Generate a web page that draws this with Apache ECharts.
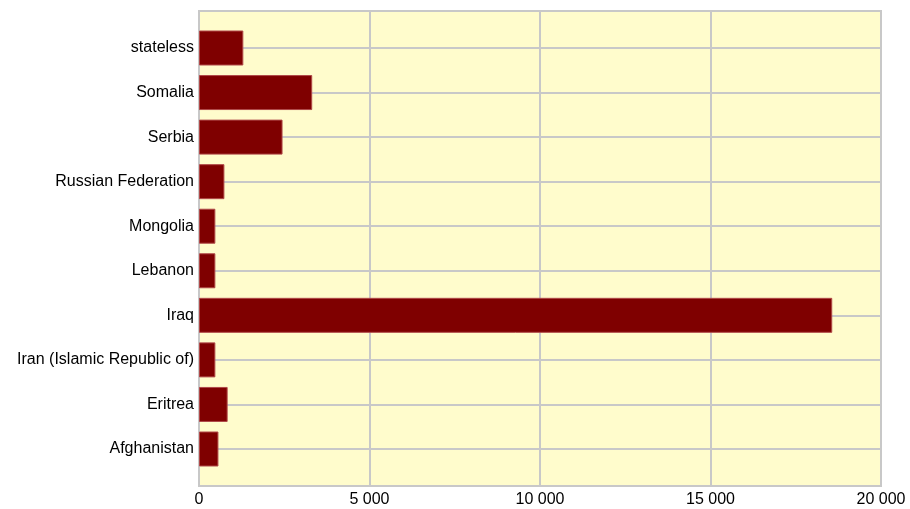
<!DOCTYPE html>
<html>
<head>
<meta charset="utf-8">
<script src="https://cdn.jsdelivr.net/npm/echarts@6/dist/echarts.min.js"></script>
<style>
  html, body { margin: 0; padding: 0; background: #fff; }
  #chart { width: 910px; height: 509px; }
</style>
</head>
<body>
<div id="chart"></div>
<script>
// categories from bottom to top
const countries = ['Afghanistan', 'Eritrea', 'Iran (Islamic Republic of)', 'Iraq', 'Lebanon',
  'Mongolia', 'Russian Federation', 'Serbia', 'Somalia', 'stateless']
const values = [570, 840, 480, 18570, 480, 480, 745, 2450, 3320, 1300]
const xTicks = [0, 5000, 10000, 15000, 20000]

const gridColor = '#c8c8c8'
const chart = echarts.init(document.getElementById('chart'))

chart.setOption({
  animation: false,
  textStyle: { fontFamily: 'Liberation Sans' },
  grid: [
    // outer plot frame with the value axis
    {
      left: 199, right: 29, top: 11, bottom: 23,
      show: true,
      backgroundColor: '#fffccc',
      borderColor: gridColor,
      borderWidth: 2
    },
    // inner band holding the categories (lines through bar centres)
    { left: 199, right: 29, top: 48, bottom: 60 }
  ],
  xAxis: [
    {
      gridIndex: 0,
      type: 'value',
      min: xTicks[0],
      max: xTicks[xTicks.length - 1],
      interval: 5000,
      axisLine: { show: false },
      axisTick: { show: false },
      axisLabel: {
        color: '#000',
        fontSize: 16,
        margin: 6,
        formatter: v => String(v).replace(/\B(?=(\d{3})+(?!\d))/g, ' ')
      },
      splitLine: { lineStyle: { color: gridColor, width: 2 } }
    },
    {
      gridIndex: 1,
      type: 'value',
      min: xTicks[0],
      max: xTicks[xTicks.length - 1],
      show: false
    }
  ],
  yAxis: [
    { gridIndex: 0, type: 'value', show: false },
    {
      gridIndex: 1,
      type: 'category',
      data: countries,
      boundaryGap: false,
      axisLine: { show: false },
      axisTick: { show: false },
      axisLabel: { color: '#000', fontSize: 16, margin: 5 },
      splitLine: { show: true, lineStyle: { color: gridColor, width: 2 } }
    }
  ],
  series: [{
    type: 'bar',
    xAxisIndex: 1,
    yAxisIndex: 1,
    data: values,
    barWidth: 35,
    itemStyle: { color: '#7f0000', borderColor: '#b04848', borderWidth: 1 }
  }]
})
</script>
</body>
</html>
